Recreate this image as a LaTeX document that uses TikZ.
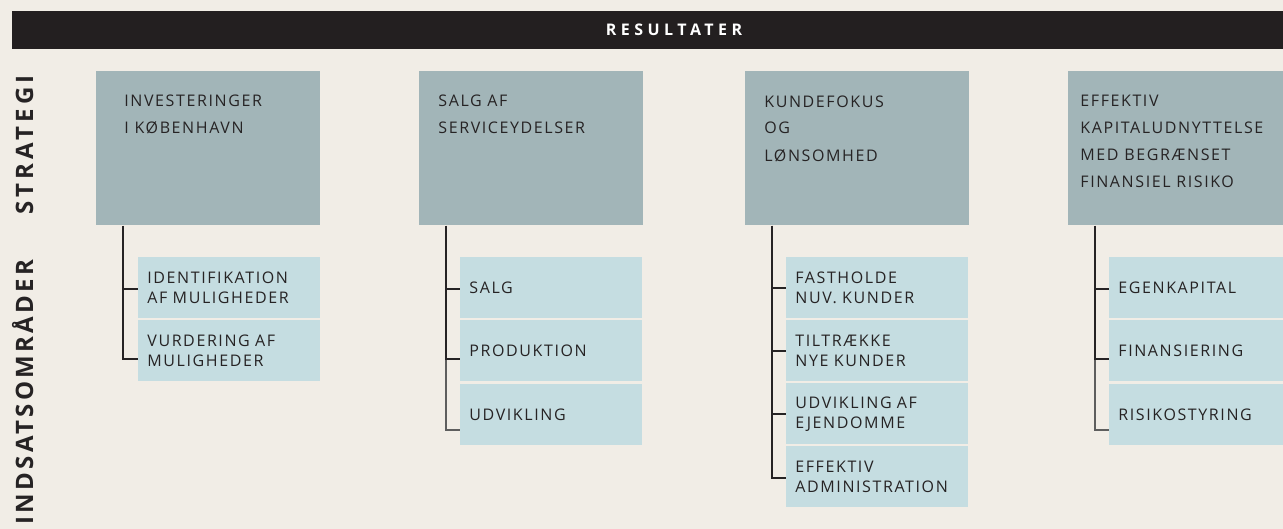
\documentclass[tikz,border=0pt]{standalone}
\usepackage{fontspec}
\setmainfont{Open Sans}
\newfontfamily\boxfont[LetterSpace=10]{Open Sans}
\newfontfamily\barfont[LetterSpace=28]{Open Sans}
\newfontfamily\sidefont[LetterSpace=17]{Open Sans}
\newfontfamily\sidefontlong[LetterSpace=14]{Open Sans}
\definecolor{paper}{HTML}{F1EDE6}
\definecolor{barblack}{HTML}{231F20}
\definecolor{mainblue}{HTML}{A2B5B8}
\definecolor{subblue}{HTML}{C5DDE1}
\definecolor{ink}{HTML}{262324}
\definecolor{linegray}{HTML}{5E5E5E}
\begin{document}
\begin{tikzpicture}[x=0.5pt, y=-0.5pt,
    mainbox/.style={rectangle, fill=mainblue, anchor=north west, inner sep=0pt, minimum width=112pt, minimum height=77pt},
    maintext/.style={anchor=north west, inner sep=0pt, align=left, text=ink, font=\boxfont\fontsize{8}{13.5}\selectfont},
    subbox/.style={rectangle, fill=subblue, anchor=north west, inner ysep=0pt, inner xsep=4.5pt, text width=82pt, minimum height=30.5pt, align=left, text=ink, font=\boxfont\fontsize{8}{10}\selectfont},
    side/.style={rotate=90, inner sep=0pt, text=ink, font=\sidefont\bfseries\fontsize{12}{12}\selectfont}]
      \path[use as bounding box, fill=paper] (0,0) rectangle (1283,529);
      \node (res) at (674,30) [rectangle, fill=barblack, inner sep=0pt, minimum width=662pt, minimum height=19pt, text=white, font=\barfont\bfseries\fontsize{8}{8}\selectfont] {RESULTATER};
      \node (strat) at (33,145) [side, anchor=base] {STRATEGI};
      \node (indsats) at (33,259) [side, anchor=base east, font=\sidefontlong\bfseries\fontsize{12}{12}\selectfont] {INDSATSOMRÅDER};
      \node (m1) at (96,71) [mainbox] {};
      \node (m2) at (419,71) [mainbox] {};
      \node (m3) at (745,71) [mainbox] {};
      \node (m4) at (1068,71) [mainbox] {};
      \node (t1) at ([shift={(28,24)}]m1.north west) [maintext] {INVESTERINGER\\I KØBENHAVN};
      \node (t2) at ([shift={(19,24)}]m2.north west) [maintext] {SALG AF\\SERVICEYDELSER};
      \node (t3) at ([shift={(19,24)}]m3.north west) [maintext] {KUNDEFOKUS\\OG\\LØNSOMHED};
      \node (t4) at ([shift={(12,24)}]m4.north west) [maintext] {EFFEKTIV\\KAPITALUDNYTTELSE\\MED BEGRÆNSET\\FINANSIEL RISIKO};
      \node (s1a) at (138,257) [subbox] {IDENTIFIKATION\\AF MULIGHEDER};
      \node (s1b) at (138,320) [subbox] {VURDERING AF\\MULIGHEDER};
      \node (s2a) at (460,257) [subbox] {SALG};
      \node (s2b) at (460,320) [subbox] {PRODUKTION};
      \node (s2c) at (460,384) [subbox] {UDVIKLING};
      \node (s3a) at (786,257) [subbox] {FASTHOLDE\\NUV. KUNDER};
      \node (s3b) at (786,320) [subbox] {TILTRÆKKE\\NYE KUNDER};
      \node (s3c) at (786,383) [subbox] {UDVIKLING AF\\EJENDOMME};
      \node (s3d) at (786,446) [subbox] {EFFEKTIV\\ADMINISTRATION};
      \node (s4a) at (1109,257) [subbox] {EGENKAPITAL};
      \node (s4b) at (1109,320) [subbox] {FINANSIERING};
      \node (s4c) at (1109,384) [subbox] {RISIKOSTYRING};
      \foreach \source/\dest/\dy/\clr in {m1/s1a/-0.75pt/ink, m1/s1b/-4.25pt/ink, m2/s2c/-7.75pt/linegray, m2/s2a/-0.75pt/ink, m2/s2b/-4.25pt/ink, m3/s3a/0pt/ink, m3/s3b/0pt/ink, m3/s3c/0pt/ink, m3/s3d/-0.75pt/ink, m4/s4c/-7.75pt/linegray, m4/s4a/-0.75pt/ink, m4/s4b/-4.25pt/ink}
        \draw[\clr, line width=1pt] ([xshift=13.5pt]\source.south west) |- ([yshift=\dy]\dest.west);
    \end{tikzpicture}
\end{document}
